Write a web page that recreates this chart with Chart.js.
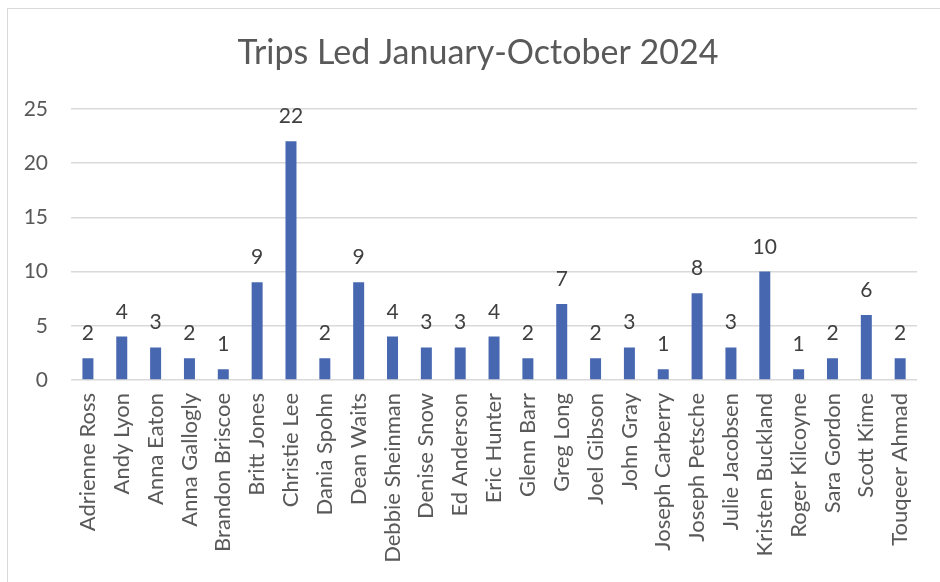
<!DOCTYPE html>
<html>
<head>
<meta charset="utf-8">
<script src="https://cdn.jsdelivr.net/npm/chart.js@4"></script>
<style>
  html, body { margin: 0; padding: 0; background: #fff; overflow: hidden; }
  #wrap { position: relative; width: 940px; height: 582px; }
  #frame { position: absolute; left: 7px; top: 8px; width: 960px; height: 600px; border: 1px solid #D9D9D9; box-sizing: border-box; }
  canvas { position: absolute; left: 0; top: 0; }
</style>
</head>
<body>
<div id="wrap">
  <div id="frame"></div>
  <canvas id="myChart" width="940" height="582"></canvas>
</div>
<script>
// Дані
const leaders = ["Adrienne Ross", "Andy Lyon", "Anna Eaton", "Anna Gallogly", "Brandon Briscoe",
  "Britt Jones", "Christie Lee", "Dania Spohn", "Dean Waits", "Debbie Sheinman", "Denise Snow",
  "Ed Anderson", "Eric Hunter", "Glenn Barr", "Greg Long", "Joel Gibson", "John Gray",
  "Joseph Carberry", "Joseph Petsche", "Julie Jacobsen", "Kristen Buckland", "Roger Kilcoyne",
  "Sara Gordon", "Scott Kime", "Touqeer Ahmad"];
const tripsLed = [2, 4, 3, 2, 1, 9, 22, 2, 9, 4, 3, 3, 4, 2, 7, 2, 3, 1, 8, 3, 10, 1, 2, 6, 2];
const yTicks = [0, 5, 10, 15, 20, 25];
const chartTitle = "Trips Led January-October 2024";

const fontName = "Lato, Carlito, Calibri, sans-serif";

// Підписи над стовпцями
const valueLabels = {
  id: 'valueLabels',
  afterDatasetsDraw(chart) {
    const ctx = chart.ctx;
    const meta = chart.getDatasetMeta(0);
    ctx.save();
    ctx.font = "21px " + fontName;
    ctx.fillStyle = "#404040";
    ctx.textAlign = "center";
    ctx.textBaseline = "alphabetic";
    meta.data.forEach((bar, i) => {
      ctx.fillText(String(tripsLed[i]), bar.x, bar.y - 18);
    });
    ctx.restore();
  }
};

// Зсув заголовка трохи вправо, як в оригіналі
const titleShift = {
  id: 'titleShift',
  afterLayout(chart) {
    const t = chart.titleBlock;
    if (t) { t.left += 19; t.right += 19; }
  }
};

const config = {
  type: 'bar',
  data: {
    labels: leaders,
    datasets: [{
      label: 'Trips Led',
      data: tripsLed,
      backgroundColor: '#4768B1',
      barPercentage: 0.65,
      categoryPercentage: 0.5
    }]
  },
  options: {
    responsive: false,
    animation: false,
    layout: { padding: { left: 0, right: 22, top: 0, bottom: 0 } },
    plugins: {
      legend: { display: false },
      tooltip: { enabled: false },
      title: {
        display: true,
        text: chartTitle,
        color: '#595959',
        font: { family: fontName, size: 34, weight: 'normal' },
        padding: { top: 33, bottom: 35 }
      }
    },
    scales: {
      x: {
        grid: { display: false, drawTicks: false },
        border: { display: false },
        ticks: {
          color: '#595959',
          font: { family: fontName, size: 22 },
          maxRotation: 90,
          minRotation: 90,
          autoSkip: false,
          padding: 13
        },
        afterFit(scale) { scale.height = 202; }
      },
      y: {
        min: 0,
        max: 25,
        afterBuildTicks(scale) { scale.ticks = yTicks.map(v => ({ value: v })); },
        grid: { color: '#D9D9D9', lineWidth: 1.5, drawTicks: false },
        border: { display: false },
        ticks: {
          color: '#595959',
          font: { family: fontName, size: 21 },
          padding: 23
        },
        afterFit(scale) { scale.width = 71; }
      }
    }
  },
  plugins: [valueLabels, titleShift]
};

const ctx = document.getElementById('myChart').getContext('2d');
const myChart = new Chart(ctx, config);
</script>
</body>
</html>
